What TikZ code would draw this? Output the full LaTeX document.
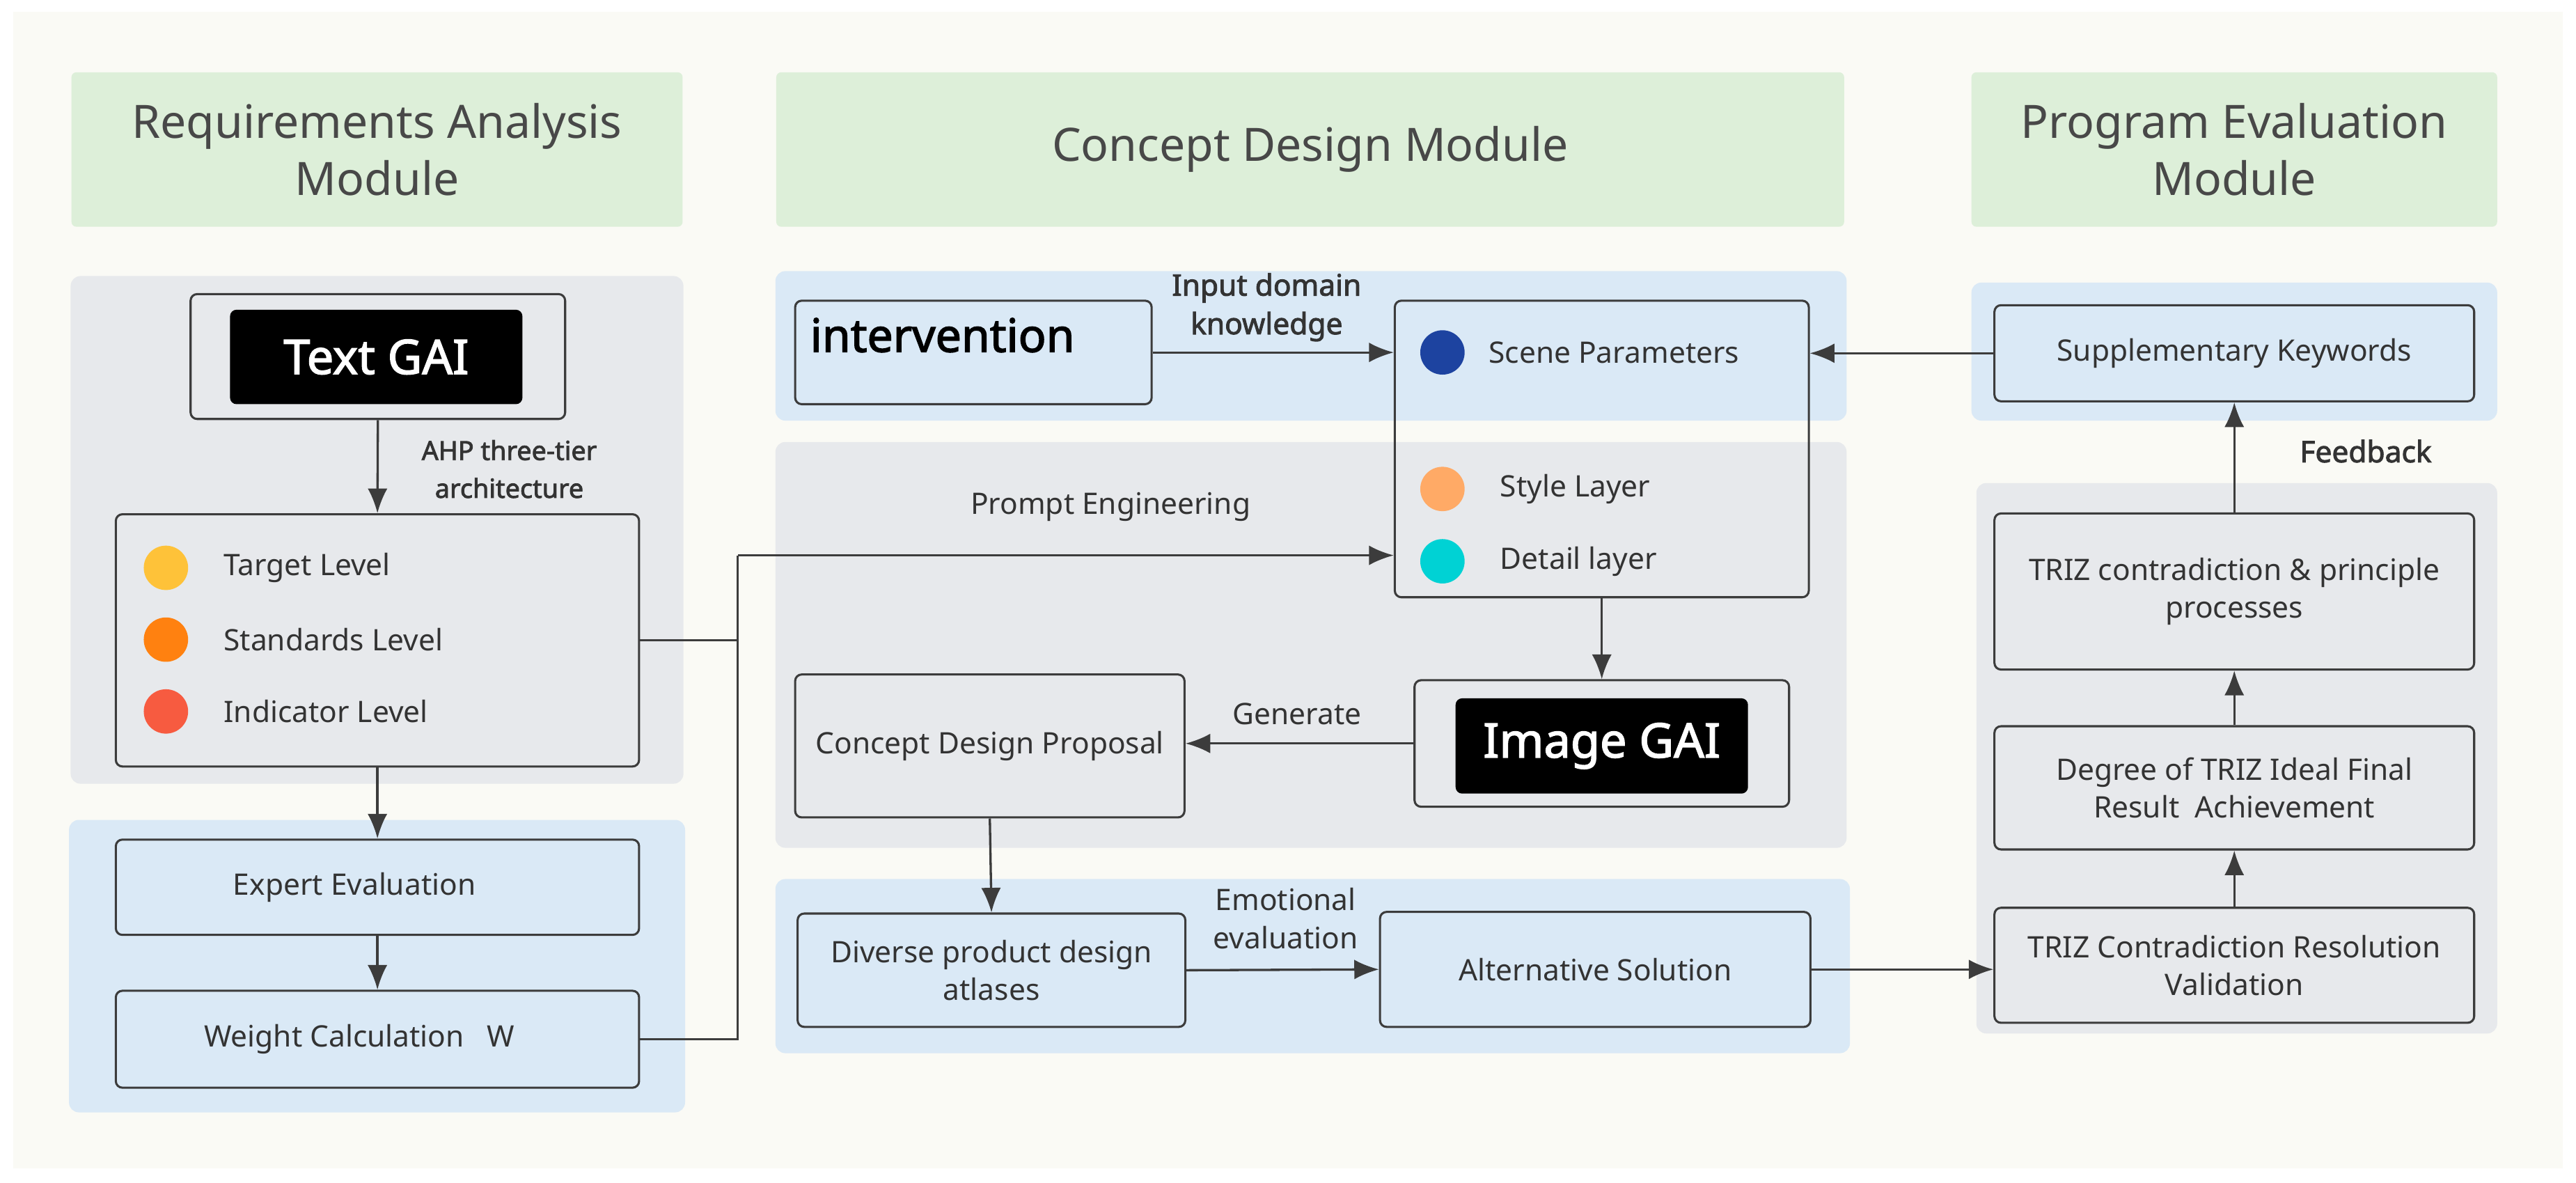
\documentclass[tikz,border=0pt]{standalone}
\usepackage{fontspec}
\setmainfont{Noto Sans}[BoldFont={Noto Sans}, BoldFeatures={FakeBold=2.2}]
\usetikzlibrary{arrows.meta}
\tikzset{>={Latex[length=15pt,width=12pt]}}
\definecolor{backColour}{RGB}{250,250,245}
\definecolor{headerColour}{RGB}{221,239,217}
\definecolor{greyPanelColour}{RGB}{231,233,236}
\definecolor{bluePanelColour}{RGB}{218,233,246}
\definecolor{lineColour}{RGB}{60,60,60}
\definecolor{textColour}{RGB}{51,51,51}
\definecolor{headTextColour}{RGB}{72,72,72}
\definecolor{targetColour}{RGB}{254,194,57}
\definecolor{standardColour}{RGB}{255,129,16}
\definecolor{indicatorColour}{RGB}{247,91,64}
\definecolor{sceneColour}{RGB}{29,67,160}
\definecolor{styleColour}{RGB}{255,170,102}
\definecolor{detailColour}{RGB}{0,210,212}
\tikzset{
	header/.style={fill=headerColour, rounded corners=3pt, inner sep=0pt, align=center,
		text=headTextColour, font=\fontsize{28}{35}\selectfont},
	panel/.style={rounded corners=6pt},
	procbox/.style={draw=lineColour, line width=1.3pt, rounded corners=4pt, inner sep=0pt,
		align=center, text=textColour, font=\fontsize{18}{23}\selectfont},
	gaibox/.style={fill=black, rounded corners=4pt, inner sep=0pt, text=white,
		font=\fontsize{29}{30}\selectfont\bfseries},
	dotnode/.style={circle, inner sep=0pt, minimum size=27pt},
	itemtext/.style={anchor=west, inner sep=0pt, text=textColour, font=\fontsize{18}{23}\selectfont},
	edgelabel/.style={inner sep=0pt, align=center, text=textColour, font=\fontsize{18}{23}\selectfont},
	connector/.style={draw=lineColour, line width=1.4pt},
}

\begin{document}
\begin{tikzpicture}[x=1pt, y=-1pt]
		\useasboundingbox (0, 0) rectangle (1568, 720);
		% the page
		\fill[white] (0, 0) rectangle (1568, 720);
		\fill[backColour] (8, 7) rectangle (1560, 711);

		% module headers
		\node[header, minimum width=372pt, minimum height=94pt] (reqHeader) at (229.5, 91) {Requirements Analysis\\Module};
		\node[header, minimum width=650pt, minimum height=94pt] (conHeader) at (797.5, 91) {Concept Design Module};
		\node[header, minimum width=320pt, minimum height=94pt] (evalHeader) at (1360, 91) {Program Evaluation\\Module};

		% the panels behind the boxes
		\fill[greyPanelColour, panel] (43, 168) rectangle (416, 477);
		\fill[bluePanelColour, panel] (42, 499) rectangle (417, 677);
		\fill[bluePanelColour, panel] (472, 165) rectangle (1124, 256);
		\fill[greyPanelColour, panel] (472, 269) rectangle (1124, 516);
		\fill[bluePanelColour, panel] (472, 535) rectangle (1126, 641);
		\fill[bluePanelColour, panel] (1200, 172) rectangle (1520, 256);
		\fill[greyPanelColour, panel] (1203, 294) rectangle (1520, 629);

		% requirements analysis
		\node[procbox, fill=greyPanelColour, minimum width=228pt, minimum height=76pt] (textGAI) at (230, 217) {};
		\node[gaibox, minimum width=178pt, minimum height=57.5pt] (textGAIName) at (229, 217.25) {Text GAI};
		\node[procbox, fill=greyPanelColour, minimum width=318.5pt, minimum height=153.5pt] (levels) at (229.75, 389.75) {};
		\node[dotnode, fill=targetColour] (targetDot) at (101, 345.6) {};
		\node[dotnode, fill=standardColour] (standardDot) at (101, 389.3) {};
		\node[dotnode, fill=indicatorColour] (indicatorDot) at (101, 433) {};
		\node[itemtext] (targetText) at (136, 345.6) {Target Level};
		\node[itemtext] (standardText) at (136, 389.3) {Standards Level};
		\node[itemtext] (indicatorText) at (136, 433) {Indicator Level};
		\node[procbox, fill=bluePanelColour, minimum width=318.5pt, minimum height=58pt] (expert) at (229.75, 540) {Expert Evaluation\hspace*{28pt}};
		\node[procbox, fill=bluePanelColour, minimum width=318.5pt, minimum height=59pt] (weight) at (229.75, 632.5) {Weight Calculation\hspace{14pt}W\hspace*{22pt}};
		\node[edgelabel, font=\fontsize{16}{23}\selectfont\bfseries] (ahpLabel) at (310, 285.5) {AHP three-tier\\architecture};

		\draw[connector, ->] (textGAI.south) -- (levels.north);
		\draw[connector, ->] (levels.south) -- (expert.north);
		\draw[connector, ->] (expert.south) -- (weight.north);

		% concept design
		\node[procbox, fill=bluePanelColour, minimum width=217pt, minimum height=63pt] (interv) at (592.5, 214.5) {};
		\node[anchor=west, inner sep=0pt, font=\fontsize{28}{30}\selectfont\bfseries] (intervText) at (493, 204) {intervention};
		\node[procbox, minimum width=252pt, minimum height=180.5pt] (scene) at (975, 273.25) {};
		\node[dotnode, fill=sceneColour] (sceneDot) at (878, 214.5) {};
		\node[dotnode, fill=styleColour] (styleDot) at (878, 297.6) {};
		\node[dotnode, fill=detailColour] (detailDot) at (878, 341.6) {};
		\node[itemtext] (sceneText) at (906, 214.5) {Scene Parameters};
		\node[itemtext] (styleText) at (913, 297.6) {Style Layer};
		\node[itemtext] (detailText) at (913, 341.6) {Detail layer};
		\node[procbox, fill=greyPanelColour, minimum width=228pt, minimum height=77pt] (imageGAI) at (975, 452.5) {};
		\node[gaibox, minimum width=178pt, minimum height=58pt] (imageGAIName) at (975, 454) {Image GAI};
		\node[procbox, fill=greyPanelColour, minimum width=237pt, minimum height=87pt] (proposal) at (602.5, 454) {Concept Design Proposal};
		\node[procbox, fill=bluePanelColour, minimum width=236pt, minimum height=69pt] (atlases) at (603.5, 590.5) {Diverse product design\\atlases};
		\node[procbox, fill=bluePanelColour, minimum width=262pt, minimum height=70pt] (altSolution) at (971, 590) {Alternative Solution};
		\node[edgelabel, font=\fontsize{18}{23.5}\selectfont\bfseries] (inputLabel) at (771, 187) {Input domain\\knowledge};
		\node[edgelabel] (promptLabel) at (676, 308.5) {Prompt Engineering};
		\node[edgelabel] (generateLabel) at (789.5, 434.7) {Generate};
		\node[edgelabel] (emotionLabel) at (782.6, 559) {Emotional\\evaluation};

		\coordinate (promptBend) at (449, 338);
		\draw[connector] (levels.east) -| (promptBend);
		\draw[connector] (weight.east) -| (promptBend);
		\draw[connector, ->] (promptBend) -- (promptBend -| scene.west);
		\draw[connector, ->] (interv.east) -- (interv.east -| scene.west);
		\draw[connector, ->] (scene.south) -- (imageGAI.north);
		\draw[connector, ->] (imageGAI.west) -- (imageGAI.west -| proposal.east);
		\draw[connector, ->] (proposal.south) -- (atlases.north);
		\draw[connector, ->] (atlases.east) -- (altSolution.west);

		% program evaluation
		\node[procbox, fill=bluePanelColour, minimum width=292pt, minimum height=58.5pt] (keywords) at (1360, 215) {Supplementary Keywords};
		\node[procbox, fill=greyPanelColour, minimum width=292pt, minimum height=95pt] (principle) at (1360, 360) {TRIZ contradiction \& principle\\processes};
		\node[procbox, fill=greyPanelColour, minimum width=292pt, minimum height=75pt] (idealResult) at (1360, 479.5) {Degree of TRIZ Ideal Final\\Result\ \ Achievement};
		\node[procbox, fill=greyPanelColour, minimum width=292pt, minimum height=70pt] (validation) at (1360, 587.5) {TRIZ Contradiction Resolution\\Validation};
		\node[edgelabel, font=\fontsize{18}{23}\selectfont\bfseries] (feedbackLabel) at (1440, 274.6) {Feedback};

		\draw[connector, ->] (keywords.west) -- (keywords.west -| scene.east);
		\draw[connector, ->] (altSolution.east) -- (altSolution.east -| validation.west);
		\draw[connector, ->] (validation.north) -- (idealResult.south);
		\draw[connector, ->] (idealResult.north) -- (principle.south);
		\draw[connector, ->] (principle.north) -- (keywords.south);
	\end{tikzpicture}
\end{document}
